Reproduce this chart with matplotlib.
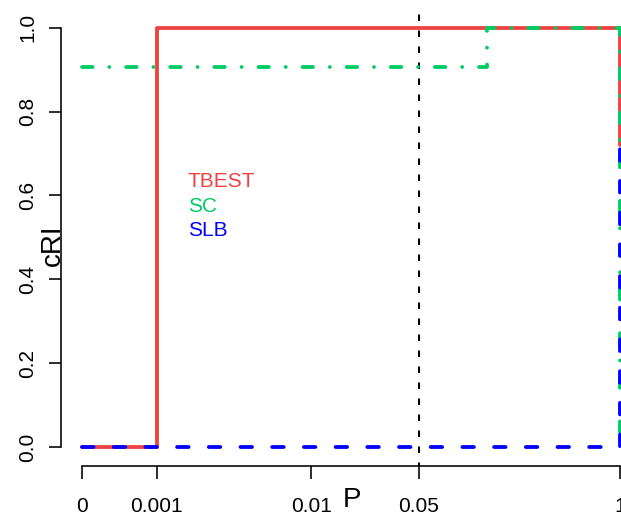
import matplotlib
matplotlib.use("Agg")
import matplotlib.pyplot as plt
import numpy as np

plt.rcParams['font.family'] = ['Liberation Sans', 'DejaVu Sans']
plt.rcParams['lines.scale_dashes'] = False

# ---- data ----
tick_values = [0, 0.001, 0.01, 0.05, 1]
tick_labels = ['0', '0.001', '0.01', '0.05', '1']
y_ticks = [0.0, 0.2, 0.4, 0.6, 0.8, 1.0]
y_tick_labels = ['0.0', '0.2', '0.4', '0.6', '0.8', '1.0']

tbest_p = [0, 0.001, 1]
tbest_cri = [0.0, 1.0, 0.72]
sc_p = [0, 0.137, 1]
sc_cri = [0.907, 1.0, 0.0]
slb_p = [0, 1]
slb_cri = [0.0, 0.72]
cutoff = 0.05

series_names = ['TBEST', 'SC', 'SLB']
series_colors = ['#EE4242', '#00CC66', '#0000FF']

ZERO_POS = 10 ** -3.483  # where P=0 is drawn on the log axis


def px(v):
    return v * 0.72  # pixels -> points at 100 dpi


def pmap(vals):
    return [ZERO_POS if v == 0 else v for v in vals]


W, H = 621, 515
fig = plt.figure(figsize=(W / 100, H / 100), dpi=100)
left, right, bottom, top = 60.5, 641.5, 465.7, 10.0
ax = fig.add_axes([left / W, 1 - bottom / H, (right - left) / W, (bottom - top) / H])
ax.set_xscale('log')
lo = np.log10(ZERO_POS)
ext = 0.04 * (0 - lo)
ax.set_xlim(10 ** (lo - ext), 10 ** (0 + ext))
ax.set_ylim(-0.0446, 1.0425)

lw = px(3.8)
ax.plot(pmap(tbest_p), tbest_cri, drawstyle='steps-post', color=series_colors[0],
        lw=lw, solid_capstyle='round', clip_on=False, zorder=3)
ax.plot(pmap(sc_p), sc_cri, drawstyle='steps-post', color=series_colors[1],
        lw=lw, ls=(0, (px(10.5), px(16.8), px(0.01), px(16.8))), dash_capstyle='round',
        clip_on=False, zorder=4)
ax.plot(pmap(slb_p), slb_cri, drawstyle='steps-post', color=series_colors[2],
        lw=lw, ls=(0, (px(11.5), px(20.2))), dash_capstyle='round', clip_on=False, zorder=5)
ax.axvline(cutoff, color='black', lw=px(2), ls=(px(3), (px(6.5), px(9.5))), zorder=2)

# axes styling
for s in ['top', 'right']:
    ax.spines[s].set_visible(False)
ax.spines['left'].set_bounds(0, 1)
ax.spines['bottom'].set_bounds(ZERO_POS, 1)
for s in ['left', 'bottom']:
    ax.spines[s].set_linewidth(px(1.6))

ax.set_xticks(pmap(tick_values))
ax.set_xticklabels(tick_labels)
ax.xaxis.set_minor_locator(matplotlib.ticker.NullLocator())
ax.set_yticks(y_ticks)
ax.set_yticklabels(y_tick_labels, rotation=90, va='center')
ax.tick_params(axis='both', length=px(12.5), width=px(1.6), labelsize=15, color='black')
ax.tick_params(axis='x', pad=px(19))
ax.tick_params(axis='y', pad=px(11))

# axis titles
fig.text(352 / W, 1 - 507 / H, 'P', fontsize=20, ha='center', va='baseline')
fig.text(53 / W, 1 - 245 / H, 'cRI', fontsize=20, ha='center', va='center', rotation=90)

# legend text
for i, (name, col) in enumerate(zip(series_names, series_colors)):
    fig.text(188 / W, 1 - (186.7 + 24.8 * i) / H, name, color=col, fontsize=15,
             ha='left', va='baseline')

fig.savefig('out.png', dpi=100)
